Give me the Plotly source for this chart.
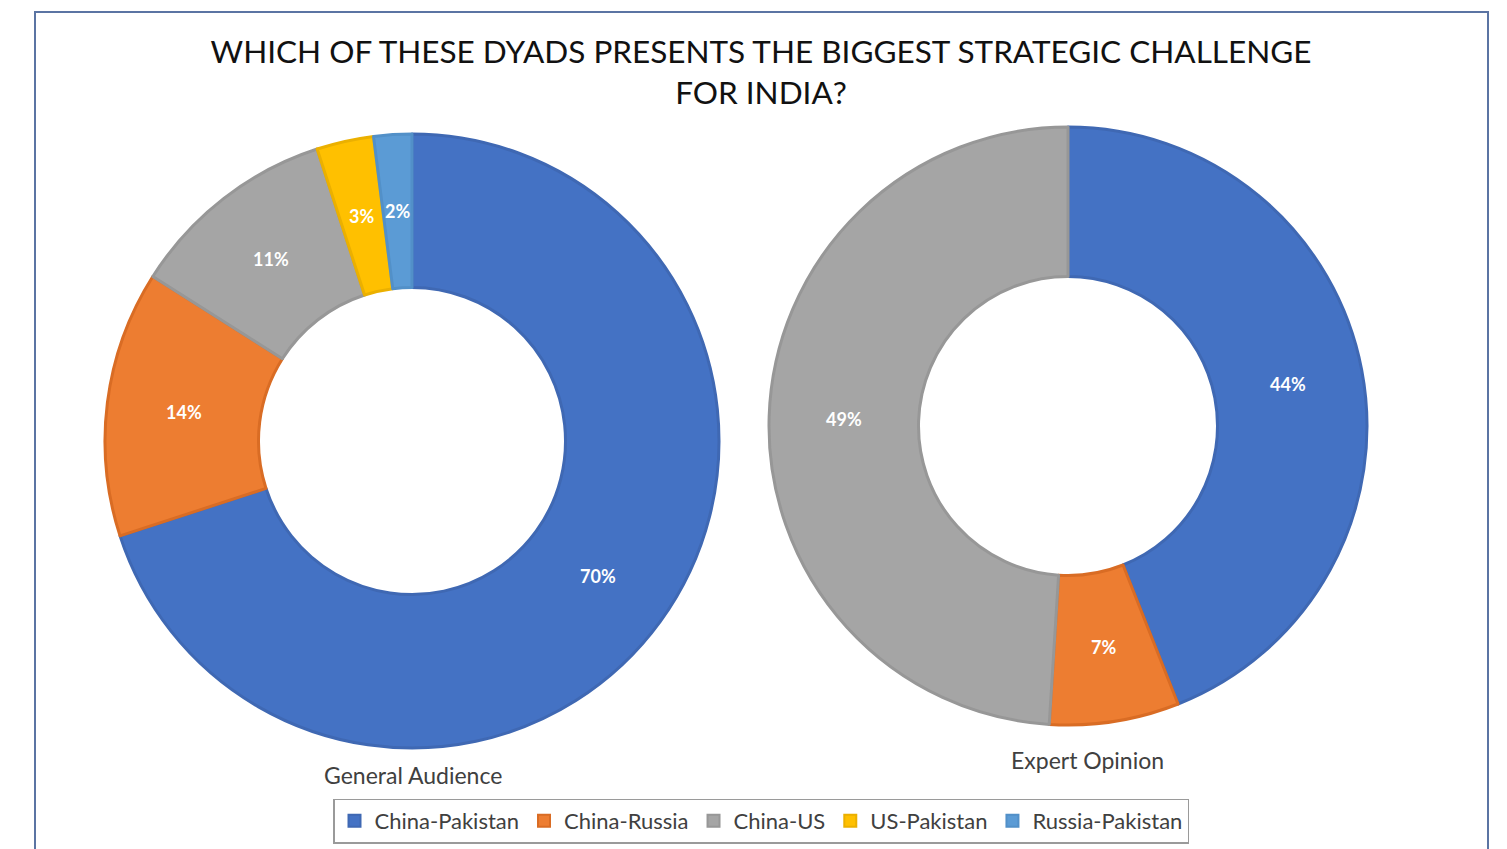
import numpy as np
import plotly.graph_objects as go

# Survey data
dyads = ["China-Pakistan", "China-Russia", "China-US", "US-Pakistan", "Russia-Pakistan"]
general_audience = [70, 14, 11, 3, 2]
expert_labels = ["China-Pakistan", "China-Russia", "China-US"]
expert_opinion = [44, 7, 49]

colors = {
    "China-Pakistan": "#4472C4",
    "China-Russia": "#ED7D31",
    "China-US": "#A5A5A5",
    "US-Pakistan": "#FFC000",
    "Russia-Pakistan": "#5B9BD5",
}
edges = {
    "China-Pakistan": "#3F68B3",
    "China-Russia": "#D96C24",
    "China-US": "#979797",
    "US-Pakistan": "#EBB000",
    "Russia-Pakistan": "#5290C8",
}

W, H = 1507, 849
FONT = "Lato"
HOLE = 0.5


def px_domain(cx, cy, r):
    return dict(x=[(cx - r) / W, (cx + r) / W], y=[1 - (cy + r) / H, 1 - (cy - r) / H])


def donut(labels, values, dom):
    return go.Pie(
        labels=labels,
        values=values,
        hole=HOLE,
        sort=False,
        direction="clockwise",
        rotation=0,
        domain=dom,
        marker=dict(colors=[colors[l] for l in labels],
                    line=dict(color=[edges[l] for l in labels], width=3)),
        textinfo="none",
        hoverinfo="label+value",
    )


def slice_labels(values, cx, cy, r):
    """Value labels placed mid-ring at each slice's mid angle (clockwise from 12 o'clock)."""
    vals = np.asarray(values, dtype=float)
    cum = np.cumsum(vals) - vals / 2
    ang = 2 * np.pi * cum / vals.sum()
    rm = r * (1 + HOLE) / 2
    out = []
    for v, a in zip(values, ang):
        x = cx + rm * np.sin(a)
        y = cy - rm * np.cos(a)
        out.append(dict(text=f"<b>{v}%</b>", x=x / W, y=1 - y / H, xref="paper", yref="paper",
                        xanchor="center", yanchor="middle", showarrow=False,
                        font=dict(family=FONT, size=18, color="white")))
    return out


left = (412, 441, 307)
right = (1068, 426, 299)

fig = go.Figure()
fig.add_trace(donut(dyads, general_audience, px_domain(*left)))
fig.add_trace(donut(expert_labels, expert_opinion, px_domain(*right)))

annotations = slice_labels(general_audience, *left) + slice_labels(expert_opinion, *right)
annotations += [
    dict(text="General Audience", x=413 / W, y=1 - 775 / H, xref="paper", yref="paper",
         xanchor="center", yanchor="middle", showarrow=False,
         font=dict(family=FONT, size=23, color="#404040")),
    dict(text="Expert Opinion", x=1087 / W, y=1 - 760 / H, xref="paper", yref="paper",
         xanchor="center", yanchor="middle", showarrow=False,
         font=dict(family=FONT, size=23, color="#404040")),
]

fig.update_layout(
    width=W,
    height=H,
    margin=dict(l=0, r=0, t=0, b=0),
    paper_bgcolor="white",
    plot_bgcolor="white",
    title=dict(
        text="WHICH OF THESE DYADS PRESENTS THE BIGGEST STRATEGIC CHALLENGE<br>FOR INDIA?",
        x=761 / W, xanchor="center", y=1 - 63 / H, yanchor="middle",
        font=dict(family=FONT, size=31.5, color="#111111"),
    ),
    legend=dict(
        orientation="h",
        x=761 / W, xanchor="center",
        y=1 - 821 / H, yanchor="middle",
        bordercolor="#9a9a9a", borderwidth=1.5,
        font=dict(family=FONT, size=22, color="#404040"),
        itemsizing="constant",
    ),
    shapes=[dict(type="rect", xref="paper", yref="paper",
                 x0=35 / W, x1=1488 / W, y0=-0.1, y1=1 - 12 / H,
                 line=dict(color="#5b74a3", width=2))],
    annotations=annotations,
)

fig.write_html("out.html")
